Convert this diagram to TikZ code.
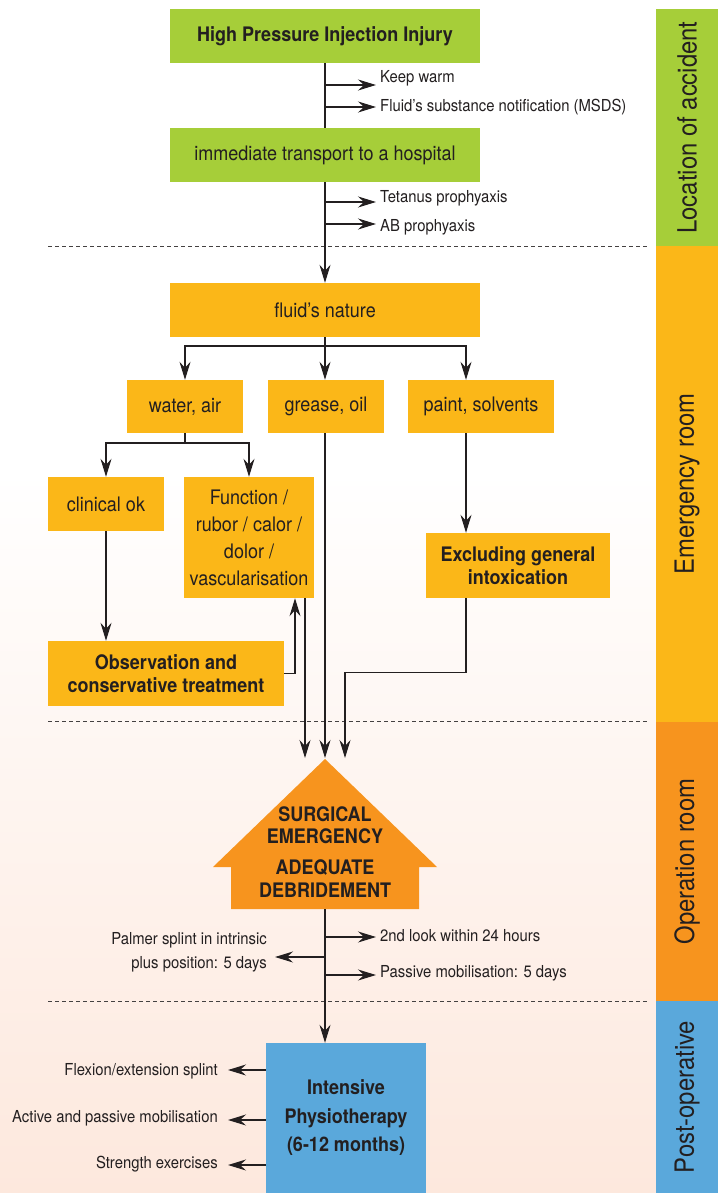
\documentclass[tikz,border=0pt]{standalone}
\usepackage{fontspec}
\setmainfont{TeX Gyre Heros}[FakeStretch=0.9]
\usetikzlibrary{arrows.meta,calc}

\definecolor{ink}{RGB}{35,31,32}
\definecolor{injgreen}{RGB}{166,206,57}
\definecolor{eramber}{RGB}{251,183,24}
\definecolor{oporange}{RGB}{247,148,30}
\definecolor{postblue}{RGB}{90,168,219}
\definecolor{blush}{RGB}{253,232,221}

\tikzset{
	box/.style={fill=eramber, text=ink, inner sep=0pt, align=center, font=\fontsize{20}{27}\selectfont},
	bbox/.style={box, font=\fontsize{20}{22.5}\selectfont\bfseries},
	note/.style={text=ink, inner sep=0pt, font=\fontsize{16.5}{23.5}\selectfont},
	arr/.style={draw=ink, line width=1.2pt, -{Stealth[length=18pt,width=11pt,inset=6pt]}},
	link/.style={draw=ink, line width=1.2pt},
	sep/.style={draw=ink!85, line width=0.8pt, dash pattern=on 4pt off 3pt},
	phase/.style={text=ink, rotate=90, inner sep=0pt, font=\fontsize{26.5}{30}\selectfont},
}

\begin{document}
\begin{tikzpicture}[x=1pt,y=-1pt]
				\useasboundingbox (0,0) rectangle (718,1193);
				\fill[white] (0,0) rectangle (718,1193);
				\shade[top color=white, bottom color=blush] (0,470) rectangle (656,1193);
				
				% phases on the right
				\fill[injgreen] (656,9) rectangle (718,246);
				\fill[eramber] (656,246) rectangle (718,722);
				\fill[oporange] (656,722) rectangle (718,1001);
				\fill[postblue] (656,1001) rectangle (718,1193);
				\node[phase] (locph) at (687,127.5) {Location of accident};
				\node[phase] (erph) at (687,484) {Emergency room};
				\node[phase] (opph) at (687,861.5) {Operation room};
				\node[phase] (postph) at (687,1097) {Post-operative};
				
				\draw[sep] (48,246) -- (649,246);
				\draw[sep] (48,721) -- (649,721);
				\draw[sep] (48,1001) -- (649,1001);
				
				% boxes
				\node[bbox, fill=injgreen, minimum width=310pt, minimum height=54pt] (inj) at (325,36) {High Pressure Injection Injury};
				\node[box, fill=injgreen, minimum width=310pt, minimum height=54pt] (trans) at (325,155) {immediate transport to a hospital};
				\node[box, minimum width=310pt, minimum height=54pt] (nat) at (325,310) {fluid’s nature};
				\node[box, minimum width=116pt, minimum height=53pt] (water) at (185,406.5) {water, air};
				\node[box, minimum width=116pt, minimum height=53pt] (grease) at (326,406.5) {grease, oil};
				\node[box, minimum width=146pt, minimum height=53pt] (paint) at (481,406.5) {paint, solvents};
				\node[box, minimum width=116pt, minimum height=54pt] (clin) at (106,504) {clinical ok};
				\node[box, minimum width=130pt, minimum height=121pt] (fn) at (249,537.5) {Function /\\rubor / calor /\\dolor /\\vascularisation};
				\node[bbox, minimum width=184pt, minimum height=65pt] (excl) at (518,565.5) {Excluding general\\intoxication};
				\node[bbox, minimum width=236pt, minimum height=65pt] (obs) at (166,673.5) {Observation and\\conservative treatment};
				
				\fill[oporange] (325,759) -- (437,867) -- (419,867) -- (419,909) -- (231,909) -- (231,867) -- (213,867) -- cycle;
				\node[text=ink, align=center, inner sep=0pt, font=\fontsize{20}{22.5}\selectfont\bfseries] (surg) at (325,852) {SURGICAL\\EMERGENCY\\[8.5pt]ADEQUATE\\DEBRIDEMENT};
				\coordinate (roof) at (325,758);
				\coordinate (roofl) at (305,758);
				\coordinate (roofr) at (345,758);
				\coordinate (eave) at (325,909);
				
				\node[bbox, fill=postblue, font=\fontsize{20}{28.5}\selectfont\bfseries, minimum width=160pt, minimum height=150pt] (phys) at (346,1118) {Intensive\\Physiotherapy\\(6-12 months)};
				
				% location of accident
				\draw[link] (inj) -- (trans);
				\draw[arr] (trans) -- (nat);
				\node[note, anchor=base west] (warm) at (380,83) {Keep warm};
				\node[note, anchor=base west] (msds) at (380,112) {Fluid’s substance notification (MSDS)};
				\node[note, anchor=base west] (tet) at (380,203) {Tetanus prophyaxis};
				\node[note, anchor=base west] (abp) at (380,231) {AB prophyaxis};
				\coordinate (a1) at (325,85);
				\coordinate (a2) at (325,107);
				\coordinate (a3) at (325,202);
				\coordinate (a4) at (325,224);
				\draw[arr] (a1) -- ($(a1 -| warm.west)+(-4,0)$);
				\draw[arr] (a2) -- ($(a2 -| msds.west)+(-4,0)$);
				\draw[arr] (a3) -- ($(a3 -| tet.west)+(-4,0)$);
				\draw[arr] (a4) -- ($(a4 -| abp.west)+(-4,0)$);
				
				% emergency room
				\coordinate (nj) at (325,346);
				\draw[link] (nat) -- (nj);
				\draw[arr] (nj) -| (water);
				\draw[arr] (nj) -- (nj |- grease.north);
				\draw[arr] (nj) -| ([xshift=-15pt]paint.north);
				\coordinate (wj) at (185,443);
				\draw[link] (water) -- (wj);
				\draw[arr] (wj) -| (clin);
				\draw[arr] (wj) -| (fn);
				\draw[arr] (clin) -- (obs.north -| clin);
				\draw[arr] (obs.east) -| ([xshift=46pt]fn.south);
				\draw[arr] ([xshift=-15pt]paint.south) -- ([xshift=-52pt]excl.north);
				\draw[arr] (roofl |- fn.south) -- (roofl);
				\draw[arr] (roof |- grease.south) -- (roof);
				\draw[arr] ([xshift=-52pt]excl.south) -- ++(0,74) -| (roofr);
				
				% operation room
				\draw[arr] (eave) -- (eave |- phys.north);
				\node[note, anchor=base west] (look) at (380,941) {2nd look within 24 hours};
				\node[note, anchor=base west] (pmob) at (380,977) {Passive mobilisation: 5 days};
				\node[note, anchor=east, align=right] (palm) at (267,952.5) {Palmer splint in intrinsic\\plus position: 5 days};
				\coordinate (b1) at (325,937);
				\coordinate (b2) at (325,957);
				\coordinate (b3) at (325,975);
				\draw[arr] (b1) -- ($(b1 -| look.west)+(-4,0)$);
				\draw[arr] (b2) -- ($(b2 -| palm.east)+(8,0)$);
				\draw[arr] (b3) -- ($(b3 -| pmob.west)+(-4,0)$);
				
				% post-operative
				\node[note, anchor=base east] (flex) at (218,1075) {Flexion/extension splint};
				\node[note, anchor=base east] (actv) at (218,1122) {Active and passive mobilisation};
				\node[note, anchor=base east] (strg) at (218,1168) {Strength exercises};
				\coordinate (c1) at (266,1070);
				\coordinate (c2) at (266,1120);
				\coordinate (c3) at (266,1165);
				\draw[arr] (c1) -- ($(c1 -| flex.east)+(10,0)$);
				\draw[arr] (c2) -- ($(c2 -| actv.east)+(10,0)$);
				\draw[arr] (c3) -- ($(c3 -| strg.east)+(10,0)$);
			\end{tikzpicture}
\end{document}
